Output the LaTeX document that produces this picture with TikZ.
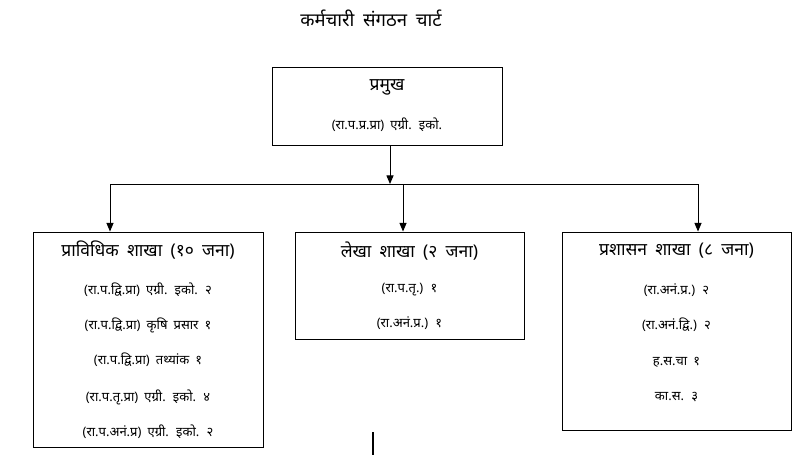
\documentclass[tikz,border=0pt]{standalone}
\usepackage{fontspec}
\newfontfamily\deva[Script=Devanagari, WordSpace=1.8]{Noto Sans}
\usetikzlibrary{shapes,arrows,positioning}
\tikzstyle{box} = [rectangle, draw, line width=1pt, inner sep=0pt]
\tikzstyle{head} = [font=\deva\fontsize{17.5}{19}\selectfont]
\tikzstyle{item} = [font=\deva\fontsize{13}{15}\selectfont]
\tikzstyle{line} = [draw, line width=1pt]
\tikzstyle{arrow} = [draw, line width=1pt, -triangle 45]

\begin{document}
\begin{tikzpicture}[x=1pt, y=-1pt]
			\useasboundingbox (0,0) rectangle (800,458);
			\node [font=\deva\fontsize{18.5}{20}\selectfont] (title) at (371,18) {कर्मचारी संगठन चार्ट};
			
			\node [box, minimum width=230, minimum height=78] (chief) at (387,106) {};
			\node [head] (chiefh) at (387,87) {प्रमुख};
			\node [item] (chief1) at (387,125) {(रा.प.प्र.प्रा) एग्री. इको.};
			
			\node [box, minimum width=230, minimum height=215] (tech) at (148,339.5) {};
			\node [head] (techh) at (148,250) {प्राविधिक शाखा (१० जना)};
			\node [item] (tech1) at (148,290) {(रा.प.द्वि.प्रा) एग्री. इको. २};
			\node [item] (tech2) at (148,325) {(रा.प.द्वि.प्रा) कृषि प्रसार १};
			\node [item] (tech3) at (148,360) {(रा.प.द्वि.प्रा) तथ्यांक १};
			\node [item] (tech4) at (148,397) {(रा.प.तृ.प्रा) एग्री. इको. ४};
			\node [item] (tech5) at (148,432) {(रा.प.अनं.प्र) एग्री. इको. २};
			
			\node [box, minimum width=229, minimum height=107] (acc) at (409.5,285.5) {};
			\node [head] (acch) at (409.5,251) {लेखा शाखा (२ जना)};
			\node [item] (acc1) at (409.5,290) {(रा.प.तृ.) १};
			\node [item] (acc2) at (409.5,323) {(रा.अनं.प्र.) १};
			
			\node [box, minimum width=229, minimum height=198] (admin) at (676.5,331) {};
			\node [head] (adminh) at (676.5,251) {प्रशासन शाखा (८ जना)};
			\node [item] (admin1) at (676.5,290) {(रा.अनं.प्र.) २};
			\node [item] (admin2) at (676.5,325) {(रा.अनं.द्वि.) २};
			\node [item] (admin3) at (676.5,362) {ह.स.चा १};
			\node [item] (admin4) at (676.5,397) {का.स. ३};
			
			\coordinate (hub) at (390,184);
			\coordinate (left) at (110,184);
			\coordinate (mid) at (403,184);
			\coordinate (right) at (698,184);
			
			\path [arrow] (chief.south -| hub) -- (hub);
			\path [line] (left) -- (right);
			\path [arrow] (left) -- (left |- tech.north);
			\path [arrow] (mid) -- (mid |- acc.north);
			\path [arrow] (right) -- (right |- admin.north);
			
			\path [draw, line width=2pt] (373,432) -- (373,455);
		\end{tikzpicture}
\end{document}
